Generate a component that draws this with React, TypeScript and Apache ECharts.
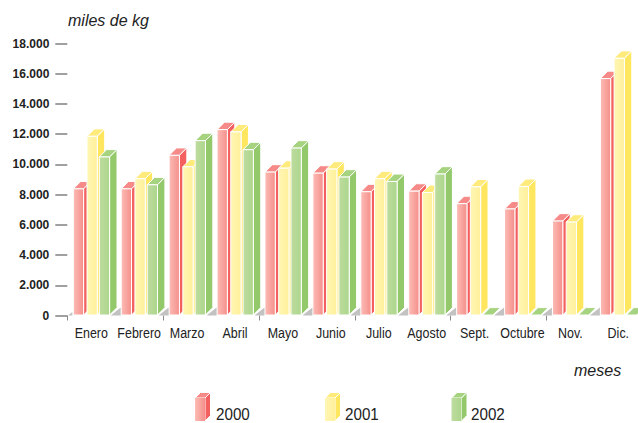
import React, { useEffect, useRef } from "react";
import * as echarts from "echarts";

const categories = ["Enero", "Febrero", "Marzo", "Abril", "Mayo", "Junio", "Julio", "Agosto", "Sept.", "Octubre", "Nov.", "Dic."];
const years = ["2000", "2001", "2002"];
const values2000 = [8380, 8380, 10600, 12300, 9490, 9420, 8190, 8230, 7400, 7050, 6250, 15680];
const values2001 = [11860, 9050, 9840, 12150, 9750, 9690, 9050, 8140, 8510, 8540, 6180, 17020];
const values2002 = [10490, 8650, 11570, 10970, 11080, 9160, 8870, 9360, 0, 0, 0, 0];

const palette = [
  { light: "#fcbcb5", front: "#f58f8b", side: "#f4605f", top: "#f58a88" },
  { light: "#fff6b4", front: "#fff09a", side: "#ffe65f", top: "#ffeb7c" },
  { light: "#bedca0", front: "#acd68b", side: "#93c96b", top: "#a5d37f" },
];
const FONT = "'Liberation Sans', Arial, sans-serif";
const D = 7.4;
const W = 10.3;
const OFFSETS = [6, 19.7, 32];

const fmt = (v: number) => (v === 0 ? "0" : String(v).replace(/(\d)(\d{3})$/, "$1.$2"));

const bar3d = (k: number) => (params: any, api: any) => {
  const idx = api.value(0);
  const v = api.value(1);
  const bandW = api.size([1, 0])[0];
  const [cx, y1] = api.coord([idx, v]);
  const [, y00] = api.coord([idx, 0]);
  const y0 = y00 - 0.5;
  const y = Math.min(y1, y0);
  const x = cx - bandW / 2 + OFFSETS[k];
  const c = palette[k];
  const stroke = { stroke: "#fff", lineWidth: 1 };
  const children: any[] = [
    {
      type: "polygon",
      shape: { points: [[x, y], [x + D, y - D], [x + W + D, y - D], [x + W, y]] },
      style: { fill: c.top, ...stroke },
    },
  ];
  if (y0 - y > 0.5) {
    children.push(
      {
        type: "polygon",
        shape: { points: [[x + W, y], [x + W + D, y - D], [x + W + D, y0 - D], [x + W, y0]] },
        style: { fill: c.side, ...stroke },
      },
      {
        type: "rect",
        shape: { x, y, width: W, height: y0 - y },
        style: {
          fill: new echarts.graphic.LinearGradient(0, 0, 1, 0, [
            { offset: 0, color: c.light },
            { offset: 1, color: c.front },
          ]),
          ...stroke,
        },
      }
    );
  }
  return { type: "group", children };
};

const floor = (params: any, api: any) => {
  const idx = api.value(0);
  const bandW = api.size([1, 0])[0];
  const [cx, y00] = api.coord([idx, 0]);
  const y0 = y00;
  const x = cx - bandW / 2;
  const points =
    idx === 0
      ? [[x + 0.7, y0], [x + 5, y0 - 3.6], [x + 5, y0]]
      : [[x - 4.5, y0], [x + 5.5, y0 - 8], [x + 5.5, y0]];
  return {
    type: "polygon",
    shape: { points },
    style: { fill: "#c2c2c2" },
  };
};

// condensed month labels, placed by the category scale
const monthLabel = (params: any, api: any) => {
  const idx = api.value(0);
  const [cx, y0] = api.coord([idx, 0]);
  return {
    type: "text",
    x: cx,
    y: y0 + 17.5,
    scaleX: 0.86,
    style: {
      text: categories[idx],
      font: `14.5px ${FONT}`,
      fill: "#222",
      textAlign: "center",
      textVerticalAlign: "middle",
    },
  };
};

export default function App() {
  const ref = useRef<HTMLDivElement>(null);
  useEffect(() => {
    const chart = echarts.init(ref.current!, undefined, { renderer: "svg" });
    const series: any[] = [
      ...[values2000, values2001, values2002].map((vals, k) => ({
        type: "custom",
        name: years[k],
        renderItem: bar3d(k),
        data: vals.map((v, i) => [i, v]),
        encode: { x: 0, y: 1 },
        clip: false,
        z: 2 + k,
      })),
      {
        type: "custom",
        renderItem: floor,
        data: categories.map((_, i) => [i, 0]),
        encode: { x: 0, y: 1 },
        silent: true,
        clip: false,
        z: 6,
      },
      {
        type: "custom",
        renderItem: monthLabel,
        data: categories.map((_, i) => [i, 0]),
        encode: { x: 0, y: 1 },
        silent: true,
        clip: false,
        z: 7,
      },
    ];
    const legendX = [195, 325, 451.5];
    const legendTextX = [216, 345, 471];
    const graphic: any[] = [
      { type: "text", x: 68, y: 12.5, style: { text: "miles de kg", font: `italic 16px ${FONT}`, fill: "#222" } },
      { type: "text", x: 574, y: 362.5, style: { text: "meses", font: `italic 16px ${FONT}`, fill: "#222" } },
    ];
    years.forEach((yr, k) => {
      const x = legendX[k];
      const c = palette[k];
      const top = 398;
      const bottom = 421;
      graphic.push(
        {
          type: "polygon",
          shape: { points: [[x, top], [x + 5.5, top - 5.5], [x + 15.5, top - 5.5], [x + 10, top]] },
          style: { fill: c.top, stroke: "#fff", lineWidth: 1 },
        },
        {
          type: "polygon",
          shape: { points: [[x + 10, top], [x + 15.5, top - 5.5], [x + 15.5, bottom - 5.5], [x + 10, bottom]] },
          style: { fill: c.side, stroke: "#fff", lineWidth: 1 },
        },
        {
          type: "rect",
          shape: { x, y: top, width: 10, height: bottom - top },
          style: {
            fill: new echarts.graphic.LinearGradient(0, 0, 1, 0, [
              { offset: 0, color: c.light },
              { offset: 1, color: c.front },
            ]),
          },
        },
        { type: "text", x: legendTextX[k], y: 406, scaleX: 0.95, style: { text: yr, font: `16px ${FONT}`, fill: "#222" } }
      );
    });
    chart.setOption({
      animation: false,
      backgroundColor: "#fff",
      grid: { left: 67.3, top: 43.5, width: 575, height: 272, containLabel: false },
      xAxis: {
        type: "category",
        data: categories,
        boundaryGap: true,
        axisLine: { show: false },
        axisTick: { show: true, alignWithLabel: false, length: 5, inside: false, lineStyle: { color: "#888" } },
        axisLabel: { show: false },
      },
      yAxis: {
        type: "value",
        min: 0,
        max: 18000,
        interval: 2000,
        axisLine: { show: false },
        splitLine: { show: false },
        axisTick: { show: true, length: 12, lineStyle: { color: "#808080", width: 1.5 } },
        axisLabel: {
          color: "#222",
          fontFamily: FONT,
          fontSize: 12,
          fontWeight: "bold",
          margin: 18,
          formatter: (v: number) => fmt(v),
        },
      },
      graphic,
      series,
    });
    return () => chart.dispose();
  }, []);
  return (
    <div style={{ width: 638, height: 423, position: "absolute", left: 0, top: 0, overflow: "hidden" }}>
      <div ref={ref} style={{ width: 650, height: 423 }} />
    </div>
  );
}
